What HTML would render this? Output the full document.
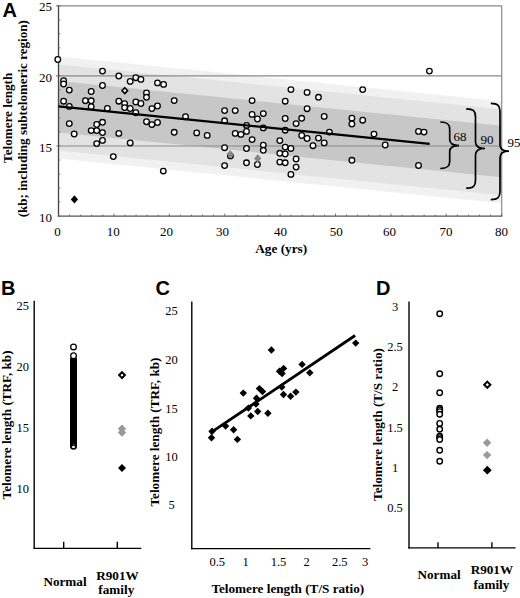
<!DOCTYPE html>
<html><head><meta charset="utf-8"><style>
html,body{margin:0;padding:0;background:#fff;width:520px;height:598px;overflow:hidden;}
svg{display:block;}

</style></head><body>
<svg width="520" height="598" viewBox="0 0 520 598">
<polygon points="58.5,56.40 501.7,101.16 501.7,203.16 58.5,158.40" fill="#f1f1f1"/>
<polygon points="58.5,64.40 501.7,109.16 501.7,195.16 58.5,150.40" fill="#e3e3e3"/>
<polygon points="58.5,80.90 501.7,125.66 501.7,177.16 58.5,132.40" fill="#c7c7c7"/>
<line x1="56" y1="146.00" x2="501.7" y2="146.00" stroke="#8a8a8a" stroke-width="1.2"/>
<line x1="56" y1="75.90" x2="501.7" y2="75.90" stroke="#8a8a8a" stroke-width="1.2"/>
<line x1="56" y1="5.80" x2="501.7" y2="5.80" stroke="#8a8a8a" stroke-width="1.2"/>
<line x1="501.7" y1="5.80" x2="501.7" y2="216.10" stroke="#8a8a8a" stroke-width="1.2"/>
<line x1="58.5" y1="5.20" x2="58.5" y2="216.70" stroke="#444" stroke-width="1.3"/>
<line x1="57.9" y1="216.10" x2="502.3" y2="216.10" stroke="#555" stroke-width="1.3"/>
<line x1="58.5" y1="216.10" x2="60.3" y2="216.10" stroke="#666" stroke-width="0.9"/>
<line x1="58.5" y1="202.08" x2="60.3" y2="202.08" stroke="#666" stroke-width="0.9"/>
<line x1="58.5" y1="188.06" x2="60.3" y2="188.06" stroke="#666" stroke-width="0.9"/>
<line x1="58.5" y1="174.04" x2="60.3" y2="174.04" stroke="#666" stroke-width="0.9"/>
<line x1="58.5" y1="160.02" x2="60.3" y2="160.02" stroke="#666" stroke-width="0.9"/>
<line x1="58.5" y1="146.00" x2="60.3" y2="146.00" stroke="#666" stroke-width="0.9"/>
<line x1="58.5" y1="131.98" x2="60.3" y2="131.98" stroke="#666" stroke-width="0.9"/>
<line x1="58.5" y1="117.96" x2="60.3" y2="117.96" stroke="#666" stroke-width="0.9"/>
<line x1="58.5" y1="103.94" x2="60.3" y2="103.94" stroke="#666" stroke-width="0.9"/>
<line x1="58.5" y1="89.92" x2="60.3" y2="89.92" stroke="#666" stroke-width="0.9"/>
<line x1="58.5" y1="75.90" x2="60.3" y2="75.90" stroke="#666" stroke-width="0.9"/>
<line x1="58.5" y1="61.88" x2="60.3" y2="61.88" stroke="#666" stroke-width="0.9"/>
<line x1="58.5" y1="47.86" x2="60.3" y2="47.86" stroke="#666" stroke-width="0.9"/>
<line x1="58.5" y1="33.84" x2="60.3" y2="33.84" stroke="#666" stroke-width="0.9"/>
<line x1="58.5" y1="19.82" x2="60.3" y2="19.82" stroke="#666" stroke-width="0.9"/>
<line x1="58.5" y1="5.80" x2="60.3" y2="5.80" stroke="#666" stroke-width="0.9"/>
<line x1="58.50" y1="213.60" x2="58.50" y2="216.10" stroke="#555" stroke-width="0.8"/>
<line x1="69.58" y1="214.60" x2="69.58" y2="216.10" stroke="#555" stroke-width="0.8"/>
<line x1="80.66" y1="214.60" x2="80.66" y2="216.10" stroke="#555" stroke-width="0.8"/>
<line x1="91.74" y1="214.60" x2="91.74" y2="216.10" stroke="#555" stroke-width="0.8"/>
<line x1="102.82" y1="214.60" x2="102.82" y2="216.10" stroke="#555" stroke-width="0.8"/>
<line x1="113.90" y1="213.60" x2="113.90" y2="216.10" stroke="#555" stroke-width="0.8"/>
<line x1="124.98" y1="214.60" x2="124.98" y2="216.10" stroke="#555" stroke-width="0.8"/>
<line x1="136.06" y1="214.60" x2="136.06" y2="216.10" stroke="#555" stroke-width="0.8"/>
<line x1="147.14" y1="214.60" x2="147.14" y2="216.10" stroke="#555" stroke-width="0.8"/>
<line x1="158.22" y1="214.60" x2="158.22" y2="216.10" stroke="#555" stroke-width="0.8"/>
<line x1="169.30" y1="213.60" x2="169.30" y2="216.10" stroke="#555" stroke-width="0.8"/>
<line x1="180.38" y1="214.60" x2="180.38" y2="216.10" stroke="#555" stroke-width="0.8"/>
<line x1="191.46" y1="214.60" x2="191.46" y2="216.10" stroke="#555" stroke-width="0.8"/>
<line x1="202.54" y1="214.60" x2="202.54" y2="216.10" stroke="#555" stroke-width="0.8"/>
<line x1="213.62" y1="214.60" x2="213.62" y2="216.10" stroke="#555" stroke-width="0.8"/>
<line x1="224.70" y1="213.60" x2="224.70" y2="216.10" stroke="#555" stroke-width="0.8"/>
<line x1="235.78" y1="214.60" x2="235.78" y2="216.10" stroke="#555" stroke-width="0.8"/>
<line x1="246.86" y1="214.60" x2="246.86" y2="216.10" stroke="#555" stroke-width="0.8"/>
<line x1="257.94" y1="214.60" x2="257.94" y2="216.10" stroke="#555" stroke-width="0.8"/>
<line x1="269.02" y1="214.60" x2="269.02" y2="216.10" stroke="#555" stroke-width="0.8"/>
<line x1="280.10" y1="213.60" x2="280.10" y2="216.10" stroke="#555" stroke-width="0.8"/>
<line x1="291.18" y1="214.60" x2="291.18" y2="216.10" stroke="#555" stroke-width="0.8"/>
<line x1="302.26" y1="214.60" x2="302.26" y2="216.10" stroke="#555" stroke-width="0.8"/>
<line x1="313.34" y1="214.60" x2="313.34" y2="216.10" stroke="#555" stroke-width="0.8"/>
<line x1="324.42" y1="214.60" x2="324.42" y2="216.10" stroke="#555" stroke-width="0.8"/>
<line x1="335.50" y1="213.60" x2="335.50" y2="216.10" stroke="#555" stroke-width="0.8"/>
<line x1="346.58" y1="214.60" x2="346.58" y2="216.10" stroke="#555" stroke-width="0.8"/>
<line x1="357.66" y1="214.60" x2="357.66" y2="216.10" stroke="#555" stroke-width="0.8"/>
<line x1="368.74" y1="214.60" x2="368.74" y2="216.10" stroke="#555" stroke-width="0.8"/>
<line x1="379.82" y1="214.60" x2="379.82" y2="216.10" stroke="#555" stroke-width="0.8"/>
<line x1="390.90" y1="213.60" x2="390.90" y2="216.10" stroke="#555" stroke-width="0.8"/>
<line x1="401.98" y1="214.60" x2="401.98" y2="216.10" stroke="#555" stroke-width="0.8"/>
<line x1="413.06" y1="214.60" x2="413.06" y2="216.10" stroke="#555" stroke-width="0.8"/>
<line x1="424.14" y1="214.60" x2="424.14" y2="216.10" stroke="#555" stroke-width="0.8"/>
<line x1="435.22" y1="214.60" x2="435.22" y2="216.10" stroke="#555" stroke-width="0.8"/>
<line x1="446.30" y1="213.60" x2="446.30" y2="216.10" stroke="#555" stroke-width="0.8"/>
<line x1="457.38" y1="214.60" x2="457.38" y2="216.10" stroke="#555" stroke-width="0.8"/>
<line x1="468.46" y1="214.60" x2="468.46" y2="216.10" stroke="#555" stroke-width="0.8"/>
<line x1="479.54" y1="214.60" x2="479.54" y2="216.10" stroke="#555" stroke-width="0.8"/>
<line x1="490.62" y1="214.60" x2="490.62" y2="216.10" stroke="#555" stroke-width="0.8"/>
<line x1="501.70" y1="213.60" x2="501.70" y2="216.10" stroke="#555" stroke-width="0.8"/>
<circle cx="57.8" cy="59.5" r="2.8" fill="#fff" stroke="#000" stroke-width="1.3"/>
<circle cx="63.6" cy="80.6" r="2.8" fill="#fff" stroke="#000" stroke-width="1.3"/>
<circle cx="63.6" cy="84.0" r="2.8" fill="#fff" stroke="#000" stroke-width="1.3"/>
<circle cx="69.3" cy="90.1" r="2.8" fill="#fff" stroke="#000" stroke-width="1.3"/>
<circle cx="102.5" cy="71.1" r="2.8" fill="#fff" stroke="#000" stroke-width="1.3"/>
<circle cx="102.5" cy="85.5" r="2.8" fill="#fff" stroke="#000" stroke-width="1.3"/>
<circle cx="91.2" cy="91.5" r="2.8" fill="#fff" stroke="#000" stroke-width="1.3"/>
<circle cx="63.6" cy="101.2" r="2.8" fill="#fff" stroke="#000" stroke-width="1.3"/>
<circle cx="85.4" cy="100.7" r="2.8" fill="#fff" stroke="#000" stroke-width="1.3"/>
<circle cx="91.2" cy="100.8" r="2.8" fill="#fff" stroke="#000" stroke-width="1.3"/>
<circle cx="69.3" cy="106.4" r="2.8" fill="#fff" stroke="#000" stroke-width="1.3"/>
<circle cx="91.2" cy="106.7" r="2.8" fill="#fff" stroke="#000" stroke-width="1.3"/>
<circle cx="107.4" cy="108.5" r="2.8" fill="#fff" stroke="#000" stroke-width="1.3"/>
<circle cx="118.8" cy="76.0" r="2.8" fill="#fff" stroke="#000" stroke-width="1.3"/>
<circle cx="130.2" cy="81.4" r="2.8" fill="#fff" stroke="#000" stroke-width="1.3"/>
<circle cx="135.8" cy="77.7" r="2.8" fill="#fff" stroke="#000" stroke-width="1.3"/>
<circle cx="140.9" cy="79.4" r="2.8" fill="#fff" stroke="#000" stroke-width="1.3"/>
<circle cx="157.5" cy="82.9" r="2.8" fill="#fff" stroke="#000" stroke-width="1.3"/>
<circle cx="146.5" cy="92.9" r="2.8" fill="#fff" stroke="#000" stroke-width="1.3"/>
<circle cx="146.5" cy="97.3" r="2.8" fill="#fff" stroke="#000" stroke-width="1.3"/>
<circle cx="118.8" cy="101.2" r="2.8" fill="#fff" stroke="#000" stroke-width="1.3"/>
<circle cx="124.6" cy="103.6" r="2.8" fill="#fff" stroke="#000" stroke-width="1.3"/>
<circle cx="135.8" cy="102" r="2.8" fill="#fff" stroke="#000" stroke-width="1.3"/>
<circle cx="140.9" cy="103.5" r="2.8" fill="#fff" stroke="#000" stroke-width="1.3"/>
<circle cx="157.5" cy="106" r="2.8" fill="#fff" stroke="#000" stroke-width="1.3"/>
<circle cx="124.6" cy="107.6" r="2.8" fill="#fff" stroke="#000" stroke-width="1.3"/>
<circle cx="130.2" cy="108.5" r="2.8" fill="#fff" stroke="#000" stroke-width="1.3"/>
<circle cx="151.9" cy="108.6" r="2.8" fill="#fff" stroke="#000" stroke-width="1.3"/>
<circle cx="69.3" cy="123.6" r="2.8" fill="#fff" stroke="#000" stroke-width="1.3"/>
<circle cx="74.2" cy="134.0" r="2.8" fill="#fff" stroke="#000" stroke-width="1.3"/>
<circle cx="91.2" cy="130.6" r="2.8" fill="#fff" stroke="#000" stroke-width="1.3"/>
<circle cx="96.7" cy="124.5" r="2.8" fill="#fff" stroke="#000" stroke-width="1.3"/>
<circle cx="102.5" cy="122.3" r="2.8" fill="#fff" stroke="#000" stroke-width="1.3"/>
<circle cx="96.7" cy="130.6" r="2.8" fill="#fff" stroke="#000" stroke-width="1.3"/>
<circle cx="102.5" cy="132.6" r="2.8" fill="#fff" stroke="#000" stroke-width="1.3"/>
<circle cx="102.5" cy="140.4" r="2.8" fill="#fff" stroke="#000" stroke-width="1.3"/>
<circle cx="96.7" cy="143.6" r="2.8" fill="#fff" stroke="#000" stroke-width="1.3"/>
<circle cx="135.8" cy="112.7" r="2.8" fill="#fff" stroke="#000" stroke-width="1.3"/>
<circle cx="118.8" cy="133.4" r="2.8" fill="#fff" stroke="#000" stroke-width="1.3"/>
<circle cx="130.2" cy="142.9" r="2.8" fill="#fff" stroke="#000" stroke-width="1.3"/>
<circle cx="146.5" cy="121.7" r="2.8" fill="#fff" stroke="#000" stroke-width="1.3"/>
<circle cx="151.9" cy="124.6" r="2.8" fill="#fff" stroke="#000" stroke-width="1.3"/>
<circle cx="157.5" cy="122.5" r="2.8" fill="#fff" stroke="#000" stroke-width="1.3"/>
<circle cx="113.3" cy="156.6" r="2.8" fill="#fff" stroke="#000" stroke-width="1.3"/>
<circle cx="163.6" cy="84.4" r="2.8" fill="#fff" stroke="#000" stroke-width="1.3"/>
<circle cx="174.2" cy="100.6" r="2.8" fill="#fff" stroke="#000" stroke-width="1.3"/>
<circle cx="185.5" cy="116.7" r="2.8" fill="#fff" stroke="#000" stroke-width="1.3"/>
<circle cx="174.2" cy="132.3" r="2.8" fill="#fff" stroke="#000" stroke-width="1.3"/>
<circle cx="196.7" cy="132.9" r="2.8" fill="#fff" stroke="#000" stroke-width="1.3"/>
<circle cx="207.2" cy="135.4" r="2.8" fill="#fff" stroke="#000" stroke-width="1.3"/>
<circle cx="252.1" cy="100.6" r="2.8" fill="#fff" stroke="#000" stroke-width="1.3"/>
<circle cx="224.6" cy="110.6" r="2.8" fill="#fff" stroke="#000" stroke-width="1.3"/>
<circle cx="235.2" cy="110.6" r="2.8" fill="#fff" stroke="#000" stroke-width="1.3"/>
<circle cx="252.1" cy="114.4" r="2.8" fill="#fff" stroke="#000" stroke-width="1.3"/>
<circle cx="257.4" cy="119" r="2.8" fill="#fff" stroke="#000" stroke-width="1.3"/>
<circle cx="224.6" cy="120.8" r="2.8" fill="#fff" stroke="#000" stroke-width="1.3"/>
<circle cx="246.6" cy="125.4" r="2.8" fill="#fff" stroke="#000" stroke-width="1.3"/>
<circle cx="235.2" cy="133.4" r="2.8" fill="#fff" stroke="#000" stroke-width="1.3"/>
<circle cx="240.9" cy="134.4" r="2.8" fill="#fff" stroke="#000" stroke-width="1.3"/>
<circle cx="246.5" cy="131.4" r="2.8" fill="#fff" stroke="#000" stroke-width="1.3"/>
<circle cx="252.1" cy="139.6" r="2.8" fill="#fff" stroke="#000" stroke-width="1.3"/>
<circle cx="224.6" cy="147.7" r="2.8" fill="#fff" stroke="#000" stroke-width="1.3"/>
<circle cx="246.5" cy="148.5" r="2.8" fill="#fff" stroke="#000" stroke-width="1.3"/>
<circle cx="290.9" cy="89.6" r="2.8" fill="#fff" stroke="#000" stroke-width="1.3"/>
<circle cx="307.1" cy="92.4" r="2.8" fill="#fff" stroke="#000" stroke-width="1.3"/>
<circle cx="285.2" cy="101.2" r="2.8" fill="#fff" stroke="#000" stroke-width="1.3"/>
<circle cx="307.1" cy="108.7" r="2.8" fill="#fff" stroke="#000" stroke-width="1.3"/>
<circle cx="263.3" cy="113.6" r="2.8" fill="#fff" stroke="#000" stroke-width="1.3"/>
<circle cx="285.2" cy="118.5" r="2.8" fill="#fff" stroke="#000" stroke-width="1.3"/>
<circle cx="301.7" cy="118.3" r="2.8" fill="#fff" stroke="#000" stroke-width="1.3"/>
<circle cx="296.1" cy="123.6" r="2.8" fill="#fff" stroke="#000" stroke-width="1.3"/>
<circle cx="263.3" cy="127.9" r="2.8" fill="#fff" stroke="#000" stroke-width="1.3"/>
<circle cx="285.2" cy="130.2" r="2.8" fill="#fff" stroke="#000" stroke-width="1.3"/>
<circle cx="301.7" cy="135.5" r="2.8" fill="#fff" stroke="#000" stroke-width="1.3"/>
<circle cx="307.1" cy="138.5" r="2.8" fill="#fff" stroke="#000" stroke-width="1.3"/>
<circle cx="279.8" cy="140.6" r="2.8" fill="#fff" stroke="#000" stroke-width="1.3"/>
<circle cx="263.3" cy="145.1" r="2.8" fill="#fff" stroke="#000" stroke-width="1.3"/>
<circle cx="263.3" cy="150.3" r="2.8" fill="#fff" stroke="#000" stroke-width="1.3"/>
<circle cx="285.2" cy="147.1" r="2.8" fill="#fff" stroke="#000" stroke-width="1.3"/>
<circle cx="290.9" cy="148.5" r="2.8" fill="#fff" stroke="#000" stroke-width="1.3"/>
<circle cx="279.8" cy="153.3" r="2.8" fill="#fff" stroke="#000" stroke-width="1.3"/>
<circle cx="285.2" cy="154" r="2.8" fill="#fff" stroke="#000" stroke-width="1.3"/>
<circle cx="296.1" cy="159" r="2.8" fill="#fff" stroke="#000" stroke-width="1.3"/>
<circle cx="279.8" cy="162.1" r="2.8" fill="#fff" stroke="#000" stroke-width="1.3"/>
<circle cx="285.2" cy="162.8" r="2.8" fill="#fff" stroke="#000" stroke-width="1.3"/>
<circle cx="296.1" cy="167.1" r="2.8" fill="#fff" stroke="#000" stroke-width="1.3"/>
<circle cx="290.9" cy="174.4" r="2.8" fill="#fff" stroke="#000" stroke-width="1.3"/>
<circle cx="257.4" cy="164.5" r="2.8" fill="#fff" stroke="#000" stroke-width="1.3"/>
<circle cx="224.6" cy="165.6" r="2.8" fill="#fff" stroke="#000" stroke-width="1.3"/>
<circle cx="246.5" cy="162.8" r="2.8" fill="#fff" stroke="#000" stroke-width="1.3"/>
<circle cx="318.5" cy="97.3" r="2.8" fill="#fff" stroke="#000" stroke-width="1.3"/>
<circle cx="362.7" cy="89.6" r="2.8" fill="#fff" stroke="#000" stroke-width="1.3"/>
<circle cx="324.2" cy="116.4" r="2.8" fill="#fff" stroke="#000" stroke-width="1.3"/>
<circle cx="351.9" cy="118.2" r="2.8" fill="#fff" stroke="#000" stroke-width="1.3"/>
<circle cx="351.9" cy="124" r="2.8" fill="#fff" stroke="#000" stroke-width="1.3"/>
<circle cx="329.4" cy="132.1" r="2.8" fill="#fff" stroke="#000" stroke-width="1.3"/>
<circle cx="318.5" cy="138.1" r="2.8" fill="#fff" stroke="#000" stroke-width="1.3"/>
<circle cx="324.2" cy="142.9" r="2.8" fill="#fff" stroke="#000" stroke-width="1.3"/>
<circle cx="313" cy="145.7" r="2.8" fill="#fff" stroke="#000" stroke-width="1.3"/>
<circle cx="351.9" cy="160.3" r="2.8" fill="#fff" stroke="#000" stroke-width="1.3"/>
<circle cx="362.7" cy="120.2" r="2.8" fill="#fff" stroke="#000" stroke-width="1.3"/>
<circle cx="374" cy="134.1" r="2.8" fill="#fff" stroke="#000" stroke-width="1.3"/>
<circle cx="385.2" cy="145" r="2.8" fill="#fff" stroke="#000" stroke-width="1.3"/>
<circle cx="429.4" cy="71.1" r="2.8" fill="#fff" stroke="#000" stroke-width="1.3"/>
<circle cx="418.5" cy="131.4" r="2.8" fill="#fff" stroke="#000" stroke-width="1.3"/>
<circle cx="424" cy="132.1" r="2.8" fill="#fff" stroke="#000" stroke-width="1.3"/>
<circle cx="418.5" cy="165.5" r="2.8" fill="#fff" stroke="#000" stroke-width="1.3"/>
<circle cx="163.3" cy="171.1" r="2.8" fill="#fff" stroke="#000" stroke-width="1.3"/>
<circle cx="230.4" cy="155.9" r="2.8" fill="#fff" stroke="#000" stroke-width="1.3"/>
<polygon points="74.40,195.20 78.00,199.40 74.40,203.60 70.80,199.40" fill="#000"/>
<polygon points="124.80,87.75 127.60,90.65 124.80,93.55 122.00,90.65" fill="#fff" stroke="#000" stroke-width="1.6" stroke-linejoin="miter"/>
<polygon points="230.20,150.10 233.80,154.30 230.20,158.50 226.60,154.30" fill="#858585"/>
<polygon points="257.70,154.20 261.30,158.40 257.70,162.60 254.10,158.40" fill="#858585"/>
<line x1="58.5" y1="106.40" x2="429.68" y2="143.89" stroke="#000" stroke-width="2.3"/>
<path d="M440.3,122 C447.7,122 449.7,124.5 449.7,129 L449.7,139.6 C449.7,143.6 452.2,145.6 459,145.6 C452.2,145.6 449.7,147.6 449.7,151.6 L449.7,161.5 C449.7,166.0 447.7,168.5 440.3,168.5" fill="none" stroke="#000" stroke-width="1.7"/>
<path d="M466.2,108.8 C473.5,108.8 475.5,111.3 475.5,116.8 L475.5,142.0 C475.5,146.5 478.0,148.5 485,148.5 C478.0,148.5 475.5,150.5 475.5,155.0 L475.5,180.2 C475.5,185.7 473.5,188.2 466.2,188.2" fill="none" stroke="#000" stroke-width="1.7"/>
<path d="M490.8,103.4 C498,103.4 500,105.9 500,111.4 L500,144.7 C500,149.2 502.5,151.2 509,151.2 C502.5,151.2 500,153.2 500,157.7 L500,191.6 C500,197.1 498,199.6 490.8,199.6" fill="none" stroke="#000" stroke-width="1.7"/>
<text x="52" y="221.70" style="font-family:'Liberation Serif',serif" font-size="13" text-anchor="end">10</text>
<text x="52" y="151.60" style="font-family:'Liberation Serif',serif" font-size="13" text-anchor="end">15</text>
<text x="52" y="81.50" style="font-family:'Liberation Serif',serif" font-size="13" text-anchor="end">20</text>
<text x="52" y="11.40" style="font-family:'Liberation Serif',serif" font-size="13" text-anchor="end">25</text>
<text x="57.60" y="235.5" style="font-family:'Liberation Serif',serif" font-size="13" text-anchor="middle">0</text>
<text x="113.30" y="235.5" style="font-family:'Liberation Serif',serif" font-size="13" text-anchor="middle">10</text>
<text x="166.50" y="235.5" style="font-family:'Liberation Serif',serif" font-size="13" text-anchor="middle">20</text>
<text x="222.50" y="235.5" style="font-family:'Liberation Serif',serif" font-size="13" text-anchor="middle">30</text>
<text x="280.50" y="235.5" style="font-family:'Liberation Serif',serif" font-size="13" text-anchor="middle">40</text>
<text x="336.20" y="235.5" style="font-family:'Liberation Serif',serif" font-size="13" text-anchor="middle">50</text>
<text x="389.60" y="235.5" style="font-family:'Liberation Serif',serif" font-size="13" text-anchor="middle">60</text>
<text x="446.10" y="235.5" style="font-family:'Liberation Serif',serif" font-size="13" text-anchor="middle">70</text>
<text x="501.40" y="235.5" style="font-family:'Liberation Serif',serif" font-size="13" text-anchor="middle">80</text>
<text x="281.2" y="253.4" style="font-family:'Liberation Serif',serif" font-size="13.3" font-weight="bold" text-anchor="middle">Age (yrs)</text>
<text x="453.5" y="141.2" style="font-family:'Liberation Serif',serif" font-size="13">68</text>
<text x="480.5" y="143.5" style="font-family:'Liberation Serif',serif" font-size="13">90</text>
<text x="507.5" y="147.3" style="font-family:'Liberation Serif',serif" font-size="13">95</text>
<text transform="translate(12.3,117.8) rotate(-90)" style="font-family:'Liberation Serif',serif" font-size="13.15" font-weight="bold" text-anchor="middle">Telomere length</text>
<text transform="translate(27.4,118.7) rotate(-90)" style="font-family:'Liberation Serif',serif" font-size="13.1" font-weight="bold" text-anchor="middle">(kb; including subtelomeric region)</text>
<text x="2.5" y="16.7" style="font-family:'Liberation Sans',sans-serif" font-size="20" font-weight="bold">A</text>
<text x="1" y="295.4" style="font-family:'Liberation Sans',sans-serif" font-size="20" font-weight="bold">B</text>
<text x="155.5" y="295.4" style="font-family:'Liberation Sans',sans-serif" font-size="20" font-weight="bold">C</text>
<text x="376" y="295.4" style="font-family:'Liberation Sans',sans-serif" font-size="20" font-weight="bold">D</text>
<line x1="34.2" y1="300.8" x2="34.2" y2="549.1" stroke="#000" stroke-width="1.4"/>
<line x1="33.5" y1="548.4" x2="141.3" y2="548.4" stroke="#000" stroke-width="1.4"/>
<line x1="63.7" y1="541.8" x2="63.7" y2="548.4" stroke="#000" stroke-width="1.4"/>
<line x1="117.3" y1="541.8" x2="117.3" y2="548.4" stroke="#000" stroke-width="1.4"/>
<text x="29" y="492.80" style="font-family:'Liberation Serif',serif" font-size="12.5" text-anchor="end">10</text>
<text x="29" y="431.90" style="font-family:'Liberation Serif',serif" font-size="12.5" text-anchor="end">15</text>
<text x="29" y="371.00" style="font-family:'Liberation Serif',serif" font-size="12.5" text-anchor="end">20</text>
<text x="29" y="310.10" style="font-family:'Liberation Serif',serif" font-size="12.5" text-anchor="end">25</text>
<circle cx="73.5" cy="346.9" r="2.85" fill="#fff" stroke="#000" stroke-width="1.3"/>
<circle cx="73.5" cy="355.8" r="2.85" fill="#fff" stroke="#000" stroke-width="1.3"/>
<rect x="70" y="358.1" width="7" height="88" rx="0" fill="#000"/>
<circle cx="73.5" cy="446.2" r="3.5" fill="#000"/>
<ellipse cx="73.5" cy="447" rx="1.7" ry="1.0" fill="#fff"/>
<ellipse cx="73.5" cy="444.8" rx="0.7" ry="0.5" fill="#888"/>
<polygon points="122.00,372.20 124.90,375.10 122.00,378.00 119.10,375.10" fill="#fff" stroke="#000" stroke-width="2.0" stroke-linejoin="miter"/>
<polygon points="122.00,424.60 126.20,428.80 122.00,433.00 117.80,428.80" fill="#999"/>
<polygon points="122.00,428.40 126.20,432.60 122.00,436.80 117.80,432.60" fill="#999"/>
<polygon points="122.00,463.90 126.00,468.00 122.00,472.10 118.00,468.00" fill="#000"/>
<text x="65" y="585.8" style="font-family:'Liberation Serif',serif" font-size="13.2" font-weight="bold" text-anchor="middle">Normal</text>
<text x="117.5" y="579.6" style="font-family:'Liberation Serif',serif" font-size="13.2" font-weight="bold" text-anchor="middle">R901W</text>
<text x="116.3" y="594.1" style="font-family:'Liberation Serif',serif" font-size="13.2" font-weight="bold" text-anchor="middle">family</text>
<text transform="translate(10.6,424.9) rotate(-90)" style="font-family:'Liberation Serif',serif" font-size="13.2" font-weight="bold" text-anchor="middle">Telomere length (TRF, kb)</text>
<line x1="191.8" y1="301.5" x2="191.8" y2="549.3000000000001" stroke="#000" stroke-width="1.4"/>
<line x1="191.10000000000002" y1="548.6" x2="370.4" y2="548.6" stroke="#000" stroke-width="1.4"/>
<text x="171.5" y="315.00" style="font-family:'Liberation Serif',serif" font-size="12.5" text-anchor="middle">25</text>
<text x="171.5" y="364.30" style="font-family:'Liberation Serif',serif" font-size="12.5" text-anchor="middle">20</text>
<text x="171.5" y="412.80" style="font-family:'Liberation Serif',serif" font-size="12.5" text-anchor="middle">15</text>
<text x="171.5" y="460.60" style="font-family:'Liberation Serif',serif" font-size="12.5" text-anchor="middle">10</text>
<text x="171.5" y="508.80" style="font-family:'Liberation Serif',serif" font-size="12.5" text-anchor="middle">5</text>
<text x="217.3" y="566.2" style="font-family:'Liberation Serif',serif" font-size="12.5" text-anchor="middle">0.5</text>
<text x="245.5" y="566.2" style="font-family:'Liberation Serif',serif" font-size="12.5" text-anchor="middle">1</text>
<text x="278.5" y="566.2" style="font-family:'Liberation Serif',serif" font-size="12.5" text-anchor="middle">1.5</text>
<text x="306.7" y="566.2" style="font-family:'Liberation Serif',serif" font-size="12.5" text-anchor="middle">2</text>
<text x="339.7" y="566.2" style="font-family:'Liberation Serif',serif" font-size="12.5" text-anchor="middle">2.5</text>
<text x="365.1" y="566.2" style="font-family:'Liberation Serif',serif" font-size="12.5" text-anchor="middle">3</text>
<polygon points="211.50,434.00 215.20,437.70 211.50,441.40 207.80,437.70" fill="#000"/>
<polygon points="212.10,427.60 215.80,431.30 212.10,435.00 208.40,431.30" fill="#000"/>
<polygon points="225.60,422.40 229.30,426.10 225.60,429.80 221.90,426.10" fill="#000"/>
<polygon points="233.60,426.10 237.30,429.80 233.60,433.50 229.90,429.80" fill="#000"/>
<polygon points="237.40,435.70 241.10,439.40 237.40,443.10 233.70,439.40" fill="#000"/>
<polygon points="243.30,389.40 247.00,393.10 243.30,396.80 239.60,393.10" fill="#000"/>
<polygon points="248.40,404.40 252.10,408.10 248.40,411.80 244.70,408.10" fill="#000"/>
<polygon points="250.80,412.20 254.50,415.90 250.80,419.60 247.10,415.90" fill="#000"/>
<polygon points="256.50,394.60 260.20,398.30 256.50,402.00 252.80,398.30" fill="#000"/>
<polygon points="255.90,400.30 259.60,404.00 255.90,407.70 252.20,404.00" fill="#000"/>
<polygon points="257.70,407.80 261.40,411.50 257.70,415.20 254.00,411.50" fill="#000"/>
<polygon points="259.40,384.90 263.10,388.60 259.40,392.30 255.70,388.60" fill="#000"/>
<polygon points="262.50,387.80 266.20,391.50 262.50,395.20 258.80,391.50" fill="#000"/>
<polygon points="267.90,409.60 271.60,413.30 267.90,417.00 264.20,413.30" fill="#000"/>
<polygon points="271.40,346.30 275.10,350.00 271.40,353.70 267.70,350.00" fill="#000"/>
<polygon points="283.60,364.70 287.30,368.40 283.60,372.10 279.90,368.40" fill="#000"/>
<polygon points="279.50,367.60 283.20,371.30 279.50,375.00 275.80,371.30" fill="#000"/>
<polygon points="282.10,369.90 285.80,373.60 282.10,377.30 278.40,373.60" fill="#000"/>
<polygon points="281.80,383.40 285.50,387.10 281.80,390.80 278.10,387.10" fill="#000"/>
<polygon points="283.50,390.80 287.20,394.50 283.50,398.20 279.80,394.50" fill="#000"/>
<polygon points="290.60,392.60 294.30,396.30 290.60,400.00 286.90,396.30" fill="#000"/>
<polygon points="295.90,388.40 299.60,392.10 295.90,395.80 292.20,392.10" fill="#000"/>
<polygon points="302.10,360.70 305.80,364.40 302.10,368.10 298.40,364.40" fill="#000"/>
<polygon points="309.80,369.10 313.50,372.80 309.80,376.50 306.10,372.80" fill="#000"/>
<polygon points="355.70,339.40 359.40,343.10 355.70,346.80 352.00,343.10" fill="#000"/>
<line x1="210" y1="433.2" x2="355.1" y2="335.5" stroke="#000" stroke-width="2.8"/>
<text x="287.8" y="593.2" style="font-family:'Liberation Serif',serif" font-size="13.2" font-weight="bold" text-anchor="middle">Telomere length (T/S ratio)</text>
<text transform="translate(158.6,432) rotate(-90)" style="font-family:'Liberation Serif',serif" font-size="13.2" font-weight="bold" text-anchor="middle">Telomere length (TRF, kb)</text>
<line x1="409" y1="301.5" x2="409" y2="548.6" stroke="#000" stroke-width="1.4"/>
<line x1="408.3" y1="547.9" x2="515.6" y2="547.9" stroke="#000" stroke-width="1.4"/>
<line x1="438" y1="542.3" x2="438" y2="547.9" stroke="#000" stroke-width="1.4"/>
<line x1="491.9" y1="542.3" x2="491.9" y2="547.9" stroke="#000" stroke-width="1.4"/>
<text x="395" y="311.10" style="font-family:'Liberation Serif',serif" font-size="12.5" text-anchor="middle">3</text>
<text x="395" y="351.10" style="font-family:'Liberation Serif',serif" font-size="12.5" text-anchor="middle">2.5</text>
<text x="395" y="391.20" style="font-family:'Liberation Serif',serif" font-size="12.5" text-anchor="middle">2</text>
<text x="395" y="431.60" style="font-family:'Liberation Serif',serif" font-size="12.5" text-anchor="middle">1.5</text>
<text x="395" y="471.60" style="font-family:'Liberation Serif',serif" font-size="12.5" text-anchor="middle">1</text>
<text x="395" y="512.20" style="font-family:'Liberation Serif',serif" font-size="12.5" text-anchor="middle">0.5</text>
<circle cx="439.7" cy="313.8" r="2.75" fill="#fff" stroke="#000" stroke-width="1.4"/>
<circle cx="439.7" cy="373.8" r="2.75" fill="#fff" stroke="#000" stroke-width="1.4"/>
<circle cx="439.7" cy="392.8" r="2.75" fill="#fff" stroke="#000" stroke-width="1.4"/>
<circle cx="439.7" cy="408.3" r="2.75" fill="#fff" stroke="#000" stroke-width="1.4"/>
<circle cx="439.7" cy="409.8" r="2.75" fill="#fff" stroke="#000" stroke-width="1.4"/>
<circle cx="439.7" cy="411.6" r="2.75" fill="#fff" stroke="#000" stroke-width="1.4"/>
<circle cx="439.7" cy="414.3" r="2.75" fill="#fff" stroke="#000" stroke-width="1.4"/>
<circle cx="439.7" cy="423.4" r="2.75" fill="#fff" stroke="#000" stroke-width="1.4"/>
<circle cx="439.7" cy="429.3" r="2.75" fill="#fff" stroke="#000" stroke-width="1.4"/>
<circle cx="439.7" cy="436.2" r="2.75" fill="#fff" stroke="#000" stroke-width="1.4"/>
<circle cx="439.7" cy="437.6" r="2.75" fill="#fff" stroke="#000" stroke-width="1.4"/>
<circle cx="439.7" cy="439.5" r="2.75" fill="#fff" stroke="#000" stroke-width="1.4"/>
<circle cx="439.7" cy="450.2" r="2.75" fill="#fff" stroke="#000" stroke-width="1.4"/>
<circle cx="439.7" cy="461.3" r="2.75" fill="#fff" stroke="#000" stroke-width="1.4"/>
<polygon points="487.30,381.60 490.40,384.70 487.30,387.80 484.20,384.70" fill="#fff" stroke="#000" stroke-width="2.0" stroke-linejoin="miter"/>
<polygon points="487.10,438.50 491.30,442.70 487.10,446.90 482.90,442.70" fill="#999"/>
<polygon points="487.10,450.90 491.30,455.10 487.10,459.30 482.90,455.10" fill="#999"/>
<polygon points="487.30,465.80 491.70,470.20 487.30,474.60 482.90,470.20" fill="#000"/>
<text x="439.1" y="579.3" style="font-family:'Liberation Serif',serif" font-size="13.2" font-weight="bold" text-anchor="middle">Normal</text>
<text x="491.9" y="573.6" style="font-family:'Liberation Serif',serif" font-size="13.2" font-weight="bold" text-anchor="middle">R901W</text>
<text x="491.4" y="588.8" style="font-family:'Liberation Serif',serif" font-size="13.2" font-weight="bold" text-anchor="middle">family</text>
<text transform="translate(381.5,424.5) rotate(-90)" style="font-family:'Liberation Serif',serif" font-size="13.2" font-weight="bold" text-anchor="middle">Telomere length (T/S ratio)</text>
</svg>
</body></html>
